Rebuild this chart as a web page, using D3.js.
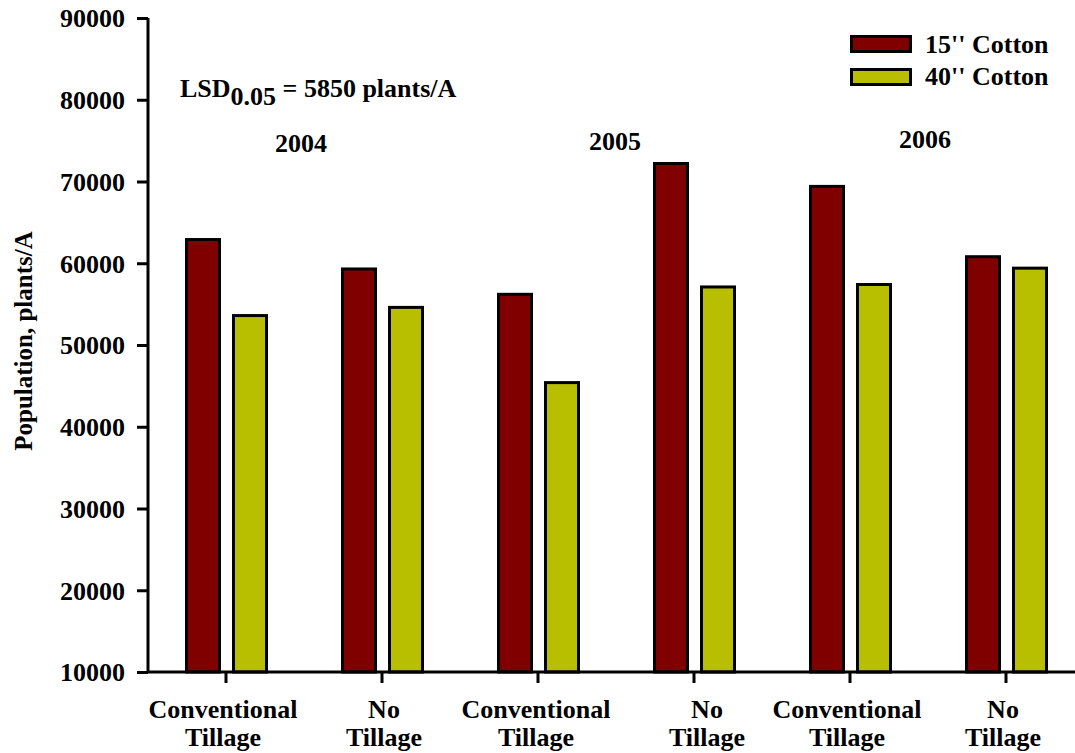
<!DOCTYPE html>
<html><head><meta charset="utf-8">
<script src="https://cdn.jsdelivr.net/npm/d3@7"></script>
<style>body{margin:0;background:#fff}svg{display:block}text{font-family:"Liberation Serif","Times New Roman",serif;font-weight:bold;fill:#000}</style>
</head><body><svg id="c" width="1075" height="753"></svg>
<script>
const categories = ["Conventional|Tillage","No|Tillage","Conventional|Tillage","No|Tillage","Conventional|Tillage","No|Tillage"];
const series = ["15'' Cotton","40'' Cotton"];
const cotton15 = [62900, 59300, 56200, 72200, 69400, 60800];
const cotton40 = [53600, 54600, 45400, 57100, 57400, 59400];
const yTicks = [10000,20000,30000,40000,50000,60000,70000,80000,90000];
const years = ["2004","2005","2006"];
const colors = ["#800000","#b8bf00"];

const FS = 26;
const svg = d3.select("#c");
const x = d3.scaleBand().domain(d3.range(categories.length)).range([148,1084]);
const y = d3.scaleLinear().domain([10000,90000]).range([672,18]);

// bars
const g = svg.append("g");
const bw = 33;
[cotton15, cotton40].forEach((vals,si)=>{
  g.selectAll(".b"+si).data(vals).join("rect")
    .attr("x",(d,i)=> x(i)+x.bandwidth()/2 + (si===0 ? -39.5 : 7.5))
    .attr("y",d=>y(d))
    .attr("width",bw)
    .attr("height",d=>y(10000)-y(d))
    .attr("fill",colors[si]).attr("stroke","#000").attr("stroke-width",3);
});

// y axis
const ya = svg.append("g").attr("transform","translate(148,0)")
  .call(d3.axisLeft(y).tickValues(yTicks).tickSize(11).tickPadding(12).tickFormat(d3.format("d")));
ya.attr("font-size",null).attr("font-family",null);
ya.select(".domain").attr("stroke-width",3).attr("d","M0,18V672");
ya.selectAll(".tick line").attr("stroke-width",3);
ya.selectAll(".tick text").style("font-size",FS+"px").attr("dy","0.34em");

// x axis
const xa = svg.append("g").attr("transform","translate(0,672)")
  .call(d3.axisBottom(x).tickSize(11).tickFormat(""));
xa.select(".domain").attr("stroke-width",3).attr("d","M148,0H1084");
xa.selectAll(".tick line").attr("stroke-width",3);
const labelNudge = [-3, 2, -2, 13, -3, -3];
categories.forEach((c,i)=>{
  const parts = c.split("|");
  const cx = x(i)+x.bandwidth()/2 + labelNudge[i];
  const t = svg.append("text").attr("text-anchor","middle").style("font-size",FS+"px");
  parts.forEach((p,j)=> t.append("tspan").attr("x", cx).attr("y", 718+j*28).text(p));
});

// y label
svg.append("text").attr("transform","translate(32,341) rotate(-90)").attr("text-anchor","middle")
  .style("font-size","25px").text("Population, plants/A");

// LSD
const lsd = svg.append("text").attr("x",180).attr("y",97).style("font-size",FS+"px");
lsd.append("tspan").text("LSD");
lsd.append("tspan").attr("dy",8).text("0.05");
lsd.append("tspan").attr("dy",-8).text(" = 5850 plants/A");

// years
const yearPos = [[301,152],[615,150],[925,148]];
years.forEach((yr,i)=> svg.append("text").attr("x",yearPos[i][0]).attr("y",yearPos[i][1])
  .attr("text-anchor","middle").style("font-size",FS+"px").text(yr));

// legend
series.forEach((s,i)=>{
  svg.append("rect").attr("x",851.5).attr("y",36.5+i*33).attr("width",59).attr("height",15)
    .attr("fill",colors[i]).attr("stroke","#000").attr("stroke-width",3);
  svg.append("text").attr("x",925).attr("y",53+i*32).style("font-size",FS+"px").text(s);
});
</script></body></html>
